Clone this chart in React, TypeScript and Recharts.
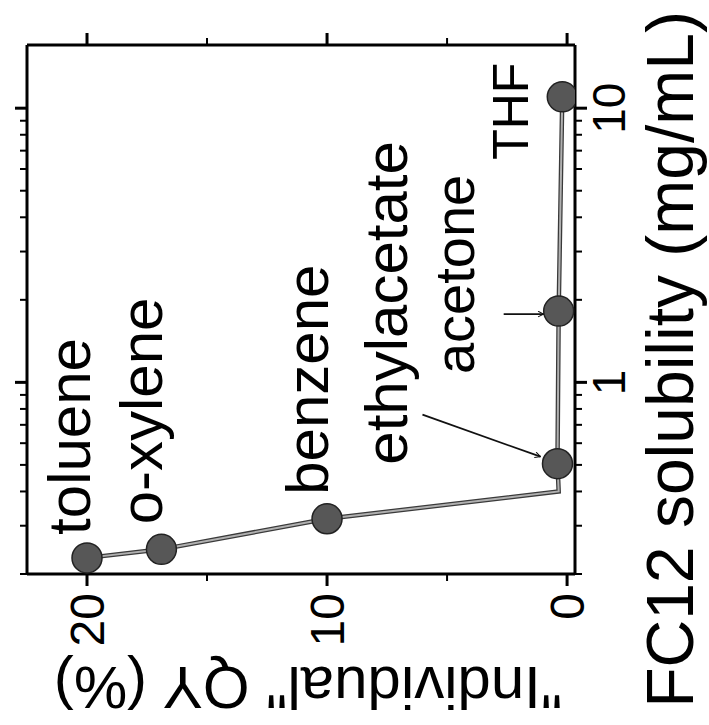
import React from "react";
import { LineChart, Line, XAxis, YAxis } from "recharts";

// solvents, in order of solubility (the unnamed one is a bend in the guide line)
const solventNames = ["toluene", "o-xylene", "benzene", "", "ethylacetate", "acetone", "THF"];
const solubility = [0.229, 0.246, 0.318, 0.4, 0.505, 1.82, 11];
const quantumYield = [20, 16.9, 10, 0.35, 0.4, 0.35, 0.2];

const xMajorTicks = [1, 10];
const xMinorTicks = [0.2, 0.3, 0.4, 0.5, 0.6, 0.7, 0.8, 0.9, 2, 3, 4, 5, 6, 7, 8, 9];
const yTicks = [0, 5, 10, 15, 20];
const yLabelTicks = [0, 10, 20];

const data = solventNames.map((name, i) => ({
  name,
  sol: solubility[i],
  qy: quantumYield[i],
}));

const allXTicks = [...xMinorTicks, ...xMajorTicks].sort((a, b) => a - b);

const FONT = "'Liberation Sans', Arial, Helvetica, sans-serif";
const W = 725;
const H = 709;

// label placement relative to the point (chart coordinates before rotation)
const labelStyle: Record<string, { dx: number; dy: number; size: number }> = {
  toluene: { dx: 23, dy: 3, size: 60 },
  "o-xylene": { dx: 25, dy: 1, size: 60 },
  benzene: { dx: 24, dy: 1, size: 60 },
  ethylacetate: { dx: -1, dy: -150, size: 60 },
  acetone: { dx: -63, dy: -85, size: 56 },
  THF: { dx: -63, dy: -34, size: 50 },
};

const arrowStyle: Record<string, [number, number, number, number]> = {
  ethylacetate: [49, -135, 7, -17],
  acetone: [-3, -55, -3, -15],
};

function xTick(side: "bottom" | "top") {
  return (props: any) => {
    const { x, y, payload } = props;
    const major = xMajorTicks.includes(payload.value);
    const len = major ? 12 : 7;
    const s = side === "bottom" ? 1 : -1;
    return (
      <g>
        <line x1={x} y1={y} x2={x} y2={y + s * len} stroke="#000" strokeWidth={major ? 3 : 2} />
        {side === "bottom" && major && (
          <text x={x} y={y + 50} textAnchor="middle" fontSize={46} fontFamily={FONT} fill="#000">
            {payload.value}
          </text>
        )}
      </g>
    );
  };
}

function yTick(side: "left" | "right") {
  return (props: any) => {
    const { x, y, payload } = props;
    const major = yLabelTicks.includes(payload.value);
    const len = major ? 12 : 7;
    const s = side === "left" ? -1 : 1;
    return (
      <g>
        <line x1={x} y1={y} x2={x + s * len} y2={y} stroke="#000" strokeWidth={major ? 3 : 2} />
        {side === "left" && major && (
          <text
            x={x - 19}
            y={y}
            textAnchor="end"
            dominantBaseline="central"
            fontSize={48}
            fontFamily={FONT}
            fill="#000"
          >
            {payload.value}
          </text>
        )}
      </g>
    );
  };
}

const renderDot = (props: any) => {
  const { cx, cy, index, payload } = props;
  const name = payload.name;
  if (!name) return <g key={`dot-${index}`} />;
  const ls = labelStyle[name];
  const arrow = arrowStyle[name];
  return (
    <g key={`dot-${index}`}>
      <circle cx={cx} cy={cy} r={15} fill="#575757" stroke="#222" strokeWidth={1.5} />
      <text
        x={cx + ls.dx}
        y={cy + ls.dy}
        fontSize={ls.size}
        fontFamily={FONT}
        fill="#000"
      >
        {name}
      </text>
      {arrow && (
        <line
          x1={cx + arrow[0]}
          y1={cy + arrow[1]}
          x2={cx + arrow[2]}
          y2={cy + arrow[3]}
          stroke="#111"
          strokeWidth={1.8}
          markerEnd="url(#arrowHead)"
        />
      )}
    </g>
  );
};

export default function App() {
  return (
    <div
      style={{
        position: "absolute",
        left: 0,
        top: 0,
        width: 709,
        height: 725,
        overflow: "hidden",
        background: "#fff",
      }}
    >
      <div
        style={{
          position: "absolute",
          left: 0,
          top: 0,
          width: W,
          height: H,
          transformOrigin: "0 0",
          transform: `translateY(${W}px) rotate(-90deg)`,
        }}
      >
        <LineChart width={W} height={H} data={data} margin={{ top: 26, right: 44, bottom: 0, left: 0 }}>
          <defs>
            <marker
              id="arrowHead"
              viewBox="0 0 10 10"
              refX="9"
              refY="5"
              markerWidth="7"
              markerHeight="7"
              orient="auto"
              markerUnits="userSpaceOnUse"
            >
              <path d="M1,1 L9,5 L1,9" fill="none" stroke="#111" strokeWidth={1.5} />
            </marker>
          </defs>
          <XAxis
            dataKey="sol"
            type="number"
            scale="log"
            domain={[0.2, 17]}
            allowDataOverflow
            ticks={allXTicks}
            interval={0}
            height={134}
            tickSize={0}
            tickMargin={0}
            tickLine={false}
            axisLine={{ stroke: "#000", strokeWidth: 3 }}
            tick={xTick("bottom")}
          />
          <XAxis
            xAxisId="top"
            orientation="top"
            dataKey="sol"
            type="number"
            scale="log"
            domain={[0.2, 17]}
            allowDataOverflow
            ticks={allXTicks}
            interval={0}
            height={1}
            tickSize={0}
            tickMargin={0}
            tickLine={false}
            axisLine={{ stroke: "#000", strokeWidth: 3 }}
            tick={xTick("top")}
          />
          <YAxis
            type="number"
            domain={[-0.33, 22.5]}
            allowDataOverflow
            ticks={yTicks}
            interval={0}
            width={151}
            tickSize={0}
            tickMargin={0}
            tickLine={false}
            axisLine={{ stroke: "#000", strokeWidth: 3 }}
            tick={yTick("left")}
          />
          <YAxis
            yAxisId="right"
            orientation="right"
            type="number"
            domain={[-0.33, 22.5]}
            allowDataOverflow
            ticks={yTicks}
            interval={0}
            width={1}
            tickSize={0}
            tickMargin={0}
            tickLine={false}
            axisLine={{ stroke: "#000", strokeWidth: 3 }}
            tick={yTick("right")}
          />
          <Line
            xAxisId="top"
            yAxisId="right"
            dataKey="qy"
            stroke="none"
            dot={false}
            activeDot={false}
            isAnimationActive={false}
          />
          <Line
            dataKey="qy"
            stroke="#3a3a3a"
            strokeWidth={4.5}
            dot={false}
            activeDot={false}
            isAnimationActive={false}
          />
          <Line
            dataKey="qy"
            stroke="#b0b0b0"
            strokeWidth={2}
            dot={renderDot}
            activeDot={false}
            isAnimationActive={false}
          />
        </LineChart>
        <svg
          width={W}
          height={H}
          style={{ position: "absolute", left: 0, top: 0, pointerEvents: "none" }}
        >
          <text
            x={714}
            y={693}
            textAnchor="end"
            fontSize={66}
            fontFamily={FONT}
            fill="#000"
          >
            FC12 solubility (mg/mL)
          </text>
          <text
            x={58}
            y={308}
            transform="rotate(-90, 58, 308)"
            textAnchor="middle"
            fontSize={60}
            fontFamily={FONT}
            fill="#000"
          >
            "Individual" QY (%)
          </text>
        </svg>
      </div>
    </div>
  );
}
